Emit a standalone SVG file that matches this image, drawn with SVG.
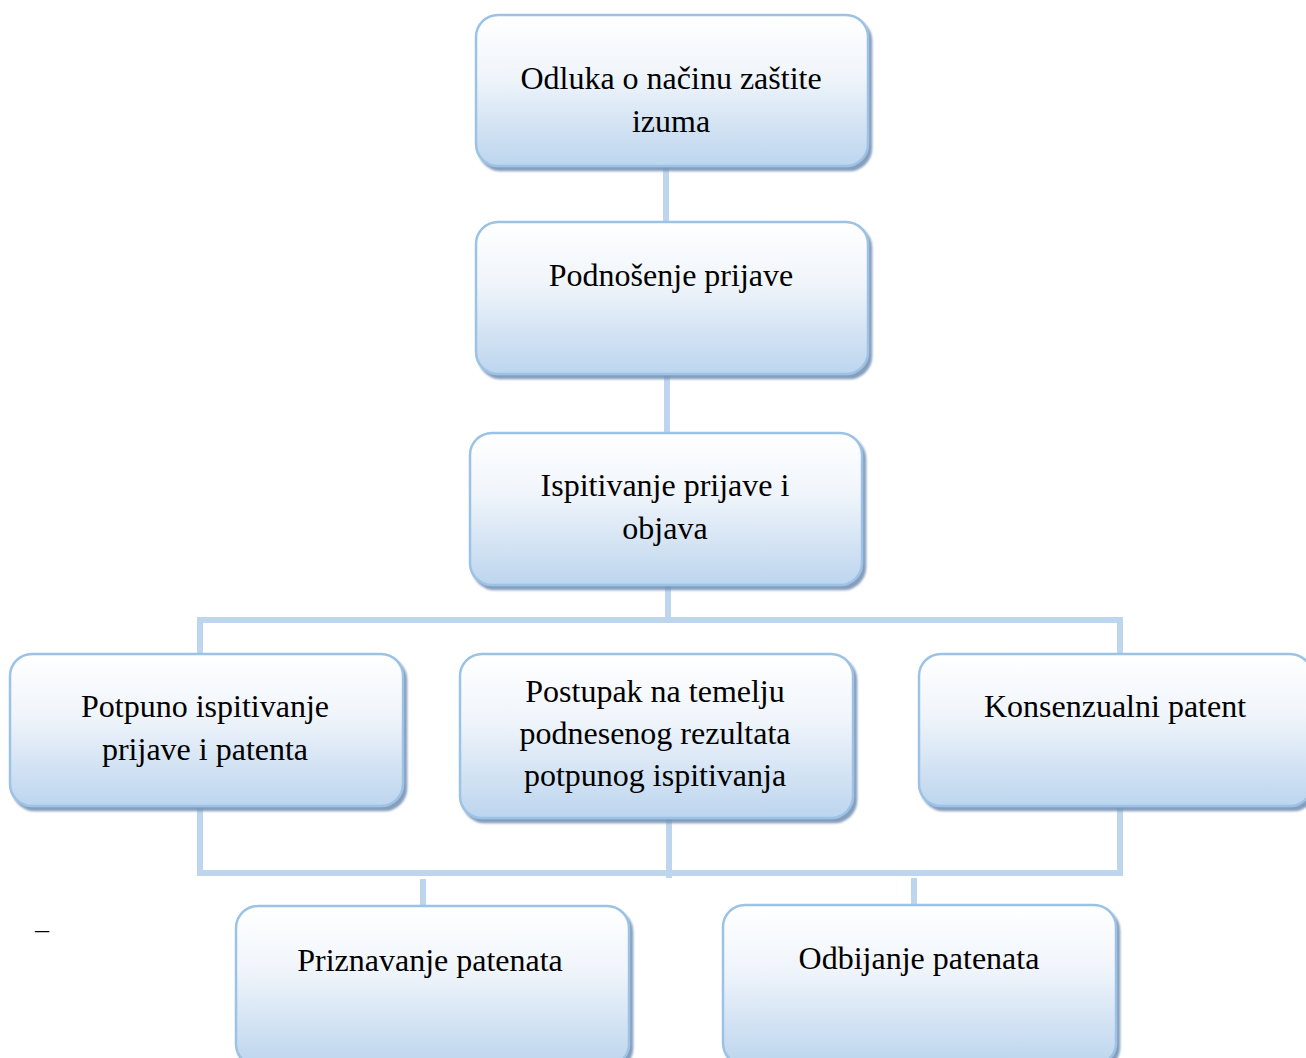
<svg xmlns="http://www.w3.org/2000/svg" width="1306" height="1058" viewBox="0 0 1306 1058">
<defs>
<linearGradient id="g" x1="0" y1="0" x2="0" y2="1">
<stop offset="0" stop-color="#ffffff"/>
<stop offset="0.4" stop-color="#f0f5fb"/>
<stop offset="0.75" stop-color="#d2e2f3"/>
<stop offset="1" stop-color="#bcd5ee"/>
</linearGradient>
<filter id="sh" x="-5%" y="-5%" width="115%" height="120%">
<feGaussianBlur in="SourceAlpha" stdDeviation="1.2" result="b"/>
<feOffset dx="3" dy="4" result="o"/>
<feFlood flood-color="#7893b6" flood-opacity="0.9"/>
<feComposite in2="o" operator="in" result="s"/>
<feMerge><feMergeNode in="s"/><feMergeNode in="SourceGraphic"/></feMerge>
</filter>
</defs>
<style>
.box{fill:url(#g);stroke:#9cc2e5;stroke-width:2.5;filter:url(#sh)}
.t{font-family:"Liberation Serif","Times New Roman",serif;font-size:32px;fill:#000;text-anchor:middle}
.c{fill:none;stroke:#bdd6ee;stroke-width:6}
</style>
<g id="connectors">
<path class="c" d="M666 166V222"/>
<path class="c" d="M667 374V434"/>
<path class="c" d="M668 585V620M200 655V620H1120V655"/>
<path class="c" d="M200 806V873H1120V806M669 818V878"/>
<path class="c" d="M423 879V906"/>
<path class="c" d="M914 878V908"/>
</g>
<g id="n1"><rect class="box" x="476" y="15" width="392" height="151" rx="22"/>
<text class="t" x="671" y="89">Odluka o načinu zaštite</text><text class="t" x="671" y="132">izuma</text></g>
<g id="n2"><rect class="box" x="476" y="222" width="392" height="152" rx="22"/>
<text class="t" x="671" y="286">Podnošenje prijave</text></g>
<g id="n3"><rect class="box" x="470" y="433" width="392" height="152" rx="22"/>
<text class="t" x="665" y="496">Ispitivanje prijave i</text><text class="t" x="665" y="539">objava</text></g>
<g id="n4"><rect class="box" x="10" y="654" width="393" height="152" rx="22"/>
<text class="t" x="205" y="717">Potpuno ispitivanje</text><text class="t" x="205" y="760">prijave i patenta</text></g>
<g id="n5"><rect class="box" x="460" y="654" width="393" height="164" rx="22"/>
<text class="t" x="655" y="702">Postupak na temelju</text><text class="t" x="655" y="744">podnesenog rezultata</text><text class="t" x="655" y="786">potpunog ispitivanja</text></g>
<g id="n6"><rect class="box" x="919" y="654" width="393" height="152" rx="22"/>
<text class="t" x="1115" y="717">Konsenzualni patent</text></g>
<g id="n7"><rect class="box" x="236" y="906" width="393" height="160" rx="22"/>
<text class="t" x="430" y="971">Priznavanje patenata</text></g>
<g id="n8"><rect class="box" x="723" y="905" width="393" height="160" rx="22"/>
<text class="t" x="919" y="969">Odbijanje patenata</text></g>
<text class="t" x="42" y="938" style="font-size:28px">–</text>
</svg>
